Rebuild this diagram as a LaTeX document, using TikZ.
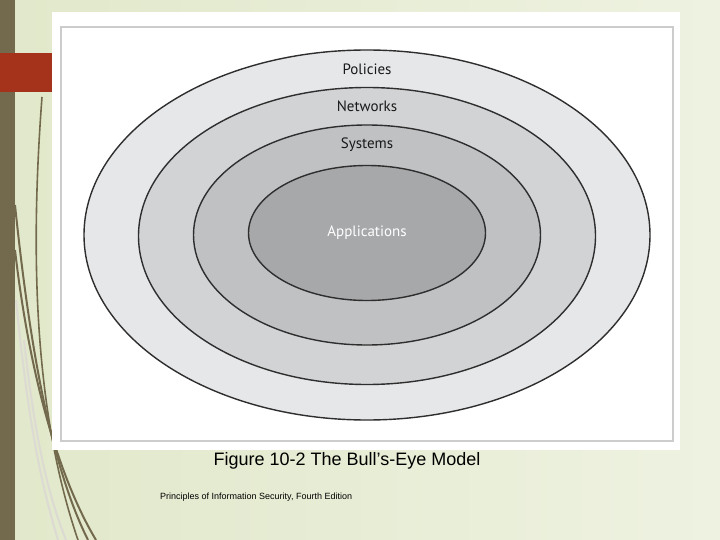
\documentclass[tikz,border=0pt]{standalone}
\usepackage{fontspec}
\setmainfont{Liberation Sans}
\newfontfamily\ringfont{PT Sans}
\usetikzlibrary{positioning, shapes.geometric}
\definecolor{slideGreen}{HTML}{E1E8CA}
\definecolor{slideLight}{HTML}{EEF2E1}
\definecolor{stripeOlive}{HTML}{736A4E}
\definecolor{accentRed}{HTML}{A5321A}
\definecolor{frameGray}{HTML}{CCCCCC}
\definecolor{ringEdge}{HTML}{2E2E2E}
\definecolor{ringOne}{HTML}{E6E7E9}
\definecolor{ringTwo}{HTML}{D2D3D5}
\definecolor{ringThree}{HTML}{C0C1C3}
\definecolor{ringFour}{HTML}{A7A8AA}

\begin{document}
\begin{tikzpicture}[x=1pt, y=-1pt,
    ring/.style={ellipse, draw=ringEdge, line width=1.4pt, inner sep=0pt},
    lbl/.style={font=\ringfont\fontsize{15}{17}\selectfont, text=black!90},
    swoosh/.style={stripeOlive, line width=2pt},
    faint/.style={stripeOlive!25, line width=2pt}
  ]
    \useasboundingbox (0,0) rectangle (720,540);
    % slide background
    \shade[left color=slideGreen, right color=slideLight] (0,0) rectangle (720,540);
    \fill[stripeOlive] (0,0) rectangle (15,540);

    % swooshes
    \draw[faint] (16,300) .. controls (28,420) and (40,480) .. (58,540);
    \draw[faint] (24,340) .. controls (34,430) and (46,490) .. (66,540);
    \draw[swoosh, line width=1.6pt] (42,97) .. controls (32,230) and (30,400) .. (78,540);
    \draw[swoosh] (15,205) .. controls (28,330) and (48,460) .. (88,540);
    \draw[swoosh] (15,250) .. controls (30,380) and (60,480) .. (96,540);

    \fill[accentRed] (0,53) rectangle (52,92);

    % figure panel
    \fill[white] (52,12) rectangle (680,450);
    \draw[frameGray, line width=1.5pt] (61,27) rectangle (673,441);

    % bull's-eye rings
    \node[ring, fill=ringOne, minimum width=566pt, minimum height=370pt] (policies) at (367,235) {};
    \node[ring, fill=ringTwo, minimum width=457pt, minimum height=297pt] (networks) at (367,236) {};
    \node[ring, fill=ringThree, minimum width=347pt, minimum height=220pt] (systems) at (367,235) {};
    \node[ring, fill=ringFour, minimum width=237pt, minimum height=135pt] (apps) at (367,233) {};

    \node[lbl] (polLbl) at (367,69) {Policies};
    \node[lbl] (netLbl) at (367,106) {Networks};
    \node[lbl] (sysLbl) at (367,145) {Systems};
    \node[lbl, text=white] (appLbl) at (apps) {Applications};

    % captions
    \node[font=\fontsize{18}{21}\selectfont] (caption) at (347,461) {Figure 10-2 The Bull’s-Eye Model};
    \node[font=\fontsize{9}{11}\selectfont, anchor=west, inner sep=0pt] (source) at (160,497)
      {Principles of Information Security, Fourth Edition};
  \end{tikzpicture}
\end{document}
